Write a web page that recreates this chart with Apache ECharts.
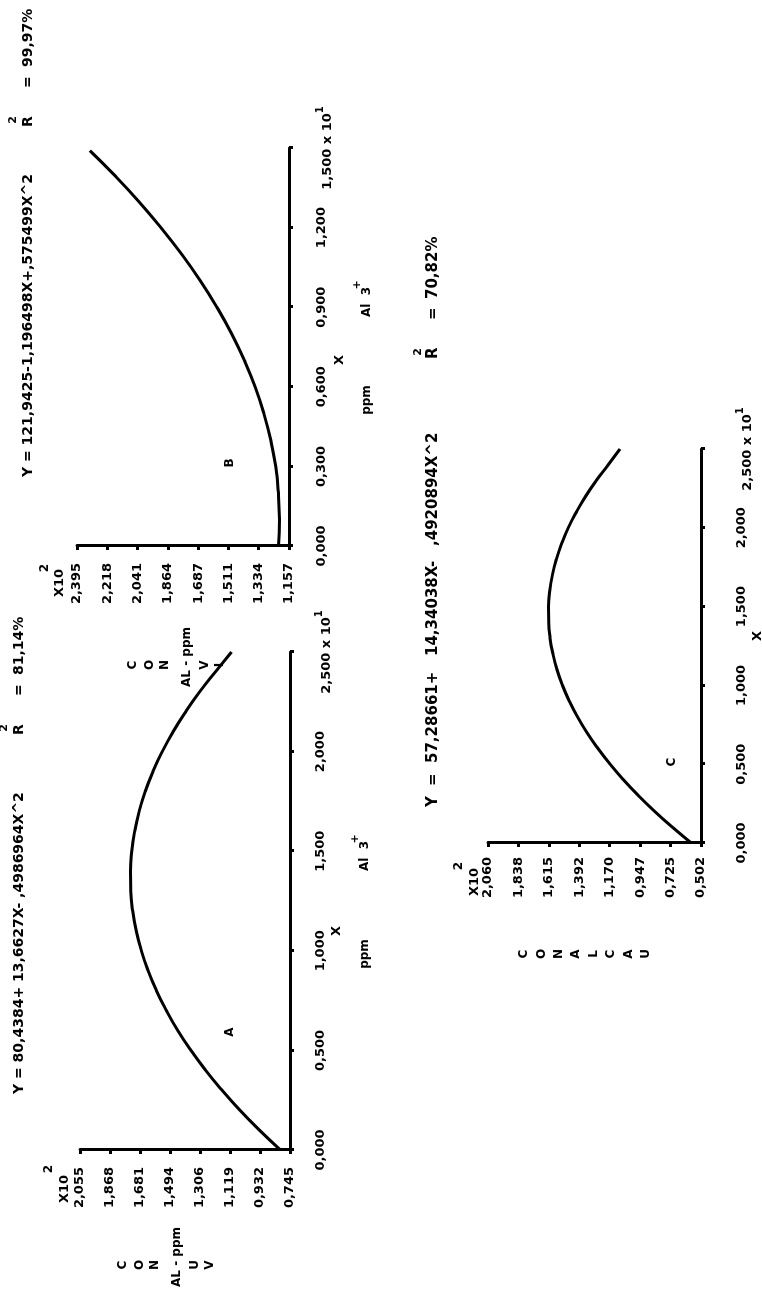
<!DOCTYPE html>
<html>
<head>
<meta charset="utf-8">
<script src="https://cdn.jsdelivr.net/npm/echarts@6/dist/echarts.min.js"></script>
<style>
html,body{margin:0;padding:0;width:762px;height:1294px;overflow:hidden;background:#fff;}
#chart{position:absolute;left:0;top:0;width:1294px;height:762px;transform-origin:0 0;transform:translate(0px,1294px) rotate(-90deg);}
</style>
</head>
<body>
<div id="chart"></div>
<script>
// ---------- data (axis units: X in x10^1 ppm Al3+, Y in x10^2) ----------
const xA = [0,0.1,0.2,0.3,0.4,0.5,0.6,0.7,0.8,0.9,1.0,1.1,1.2,1.3,1.4,1.5,1.6,1.7,1.8,1.9,2.0,2.1,2.2,2.3,2.4,2.5];
const yA = [0.804,0.936,1.058,1.169,1.271,1.363,1.445,1.516,1.578,1.630,1.672,1.704,1.726,1.738,1.740,1.732,1.714,1.686,1.648,1.600,1.542,1.474,1.396,1.309,1.211,1.110];

const xB = [0,0.1,0.2,0.3,0.4,0.5,0.6,0.7,0.8,0.9,1.0,1.1,1.2,1.3,1.4,1.49];
const yB = [1.219,1.213,1.219,1.235,1.264,1.304,1.355,1.418,1.492,1.578,1.675,1.784,1.905,2.036,2.180,2.320];

const xC = [0,0.1,0.2,0.3,0.4,0.5,0.6,0.7,0.8,0.9,1.0,1.1,1.2,1.3,1.4,1.5,1.6,1.7,1.8,1.9,2.0,2.1,2.2,2.3,2.4,2.5];
const yC = [0.573,0.711,0.840,0.959,1.068,1.167,1.256,1.336,1.405,1.465,1.515,1.555,1.585,1.606,1.616,1.617,1.608,1.589,1.560,1.521,1.473,1.414,1.346,1.268,1.180,1.095];

const xTicksA = ['0,000','0,500','1,000','1,500','2,000','2,500'];
const yTicksA = ['0,745','0,932','1,119','1,306','1,494','1,681','1,868','2,055'];
const xTicksB = ['0,000','0,300','0,600','0,900','1,200','1,500'];
const yTicksB = ['1,157','1,334','1,511','1,687','1,864','2,041','2,218','2,395'];
const xTicksC = ['0,000','0,500','1,000','1,500','2,000','2,500'];
const yTicksC = ['0,502','0,725','0,947','1,170','1,392','1,615','1,838','2,060'];

const titleA = 'Y = 80,4384+ 13,6627X- ,4986964X^2';
const titleB = 'Y = 121,9425-1,196498X+,575499X^2';
const titleCParts = ['Y', '=', '57,28661+', '14,34038X-', ',4920894X^2'];
const r2A = '81,14%', r2B = '99,97%', r2C = '70,82%';

// ---------- helpers ----------
const FF = '"DejaVu Sans", "Liberation Sans", sans-serif';
const pair = (xs, ys) => xs.map((x, i) => [x, ys[i]]);

function yAxisCfg(grid, labels, min, max, margin) {
  const step = (max - min) / (labels.length - 1);
  return {
    type: 'value', gridIndex: grid, min: min, max: max, interval: step,
    axisLine: {show: true, onZero: false, lineStyle: {color: '#000', width: 3}},
    axisTick: {show: true, length: 4, lineStyle: {color: '#000', width: 3}},
    splitLine: {show: false},
    axisLabel: {
      color: '#000', fontFamily: FF, fontWeight: 'bold', fontSize: 13, margin: margin,
      showMinLabel: true, showMaxLabel: true, hideOverlap: false,
      formatter: v => labels[Math.round((v - min) / step)] || ''
    }
  };
}
function xAxisCfg(grid, labels, max, margin) {
  const step = max / (labels.length - 1);
  return {
    type: 'value', gridIndex: grid, min: 0, max: max, interval: step,
    axisLine: {show: true, onZero: false, lineStyle: {color: '#000', width: 3}},
    axisTick: {show: true, length: 4, lineStyle: {color: '#000', width: 3}},
    splitLine: {show: false},
    axisLabel: {
      color: '#000', fontFamily: FF, fontWeight: 'bold', fontSize: 13, margin: margin,
      showMinLabel: true, showMaxLabel: true, hideOverlap: false,
      formatter: v => {
        const i = Math.round(v / step);
        if (i === labels.length - 1) return '{n|' + labels[i] + ' x 10}{s|1}';
        return labels[i] || '';
      },
      rich: {
        n: {color: '#000', fontFamily: FF, fontWeight: 'bold', fontSize: 13, lineHeight: 26},
        s: {color: '#000', fontFamily: FF, fontWeight: 'bold', fontSize: 10, verticalAlign: 'top', lineHeight: 26}
      }
    }
  };
}
function T(x, y, text, size, align) {
  return {type: 'text', x: x, y: y, silent: true,
    style: {text: text, fill: '#000', font: 'bold ' + (size || 13) + 'px ' + FF,
      align: align || 'center', verticalAlign: 'middle'}};
}
function r2(xR, y, val, size) {
  size = size || 14;
  return [T(xR, y, 'R', size, 'left'), T(xR + 7, y - 15, '2', 11), T(xR + 39, y, '=', size, 'left'), T(xR + 60, y, val, size, 'left')];
}
function line(i, data) {
  return {type: 'line', xAxisIndex: i, yAxisIndex: i, data: data, smooth: true, symbol: 'none',
    lineStyle: {color: '#000', width: 3}, animation: false};
}

const chart = echarts.init(document.getElementById('chart'), null, {renderer: 'canvas'});

const graphics = [].concat(
  // titles
  [T(200, 19, titleA, 14, 'left')], r2(559, 19, r2A),
  [T(817, 28, titleB, 14, 'left')], r2(1167, 28, r2B),
  [T(487, 433, titleCParts[0], 15, 'left'), T(508, 433, titleCParts[1], 15, 'left'),
   T(531, 433, titleCParts[2], 15, 'left'), T(638, 433, titleCParts[3], 15, 'left'),
   T(748, 433, titleCParts[4], 15, 'left')],
  r2(935, 433, r2C, 15),
  // x10^2 marks
  [T(105, 65, 'X10', 13), T(125, 49, '2', 12)],
  [T(711, 60, 'X10', 13), T(726, 45, '2', 12)],
  [T(412, 475, 'X10', 13), T(428, 459, '2', 12)],
  // y-axis titles (stacked letters)
  [T(29, 123, 'C', 12), T(29, 140, 'O', 12), T(29, 155, 'N', 12), T(37, 177, 'AL - ppm', 12), T(29, 195, 'U', 12), T(29, 210, 'V', 12)],
  [T(629, 133, 'C', 12), T(629, 150, 'O', 12), T(629, 165, 'N', 12), T(637, 187, 'AL - ppm', 12), T(629, 205, 'V', 12), T(629, 220, 'I', 12)],
  ['C','O','N','A','L','C','A','U'].map((c, i) => T(340, 524 + i * 17.4, c, 12)),
  // panel letters
  [T(262, 230, 'A', 12), T(831, 230, 'B', 12), T(532, 672, 'C', 12)],
  // x-axis names
  [T(363, 337, 'X', 13), T(340, 365, 'ppm', 12), T(438, 365, 'Al  3', 12), T(455, 355, '+', 11)],
  [T(934, 340, 'X', 13), T(894, 367, 'ppm', 12), T(992, 367, 'Al  3', 12), T(1009, 357, '+', 11)],
  [T(658, 758, 'X', 13)]
);

chart.setOption({
  animation: false,
  backgroundColor: '#fff',
  grid: [
    {left: 144, top: 80, width: 498, height: 210, containLabel: false, outerBoundsMode: 'none'},
    {left: 748, top: 77, width: 398, height: 212, containLabel: false, outerBoundsMode: 'none'},
    {left: 451, top: 488, width: 394, height: 213, containLabel: false, outerBoundsMode: 'none'}
  ],
  xAxis: [xAxisCfg(0, xTicksA, 2.5, 24), xAxisCfg(1, xTicksB, 1.5, 26), xAxisCfg(2, xTicksC, 2.5, 34)],
  yAxis: [yAxisCfg(0, yTicksA, 0.745, 2.055, 17), yAxisCfg(1, yTicksB, 1.157, 2.395, 17), yAxisCfg(2, yTicksC, 0.502, 2.060, 14)],
  series: [line(0, pair(xA, yA)), line(1, pair(xB, yB)), line(2, pair(xC, yC))],
  graphic: graphics
});
</script>
</body>
</html>
